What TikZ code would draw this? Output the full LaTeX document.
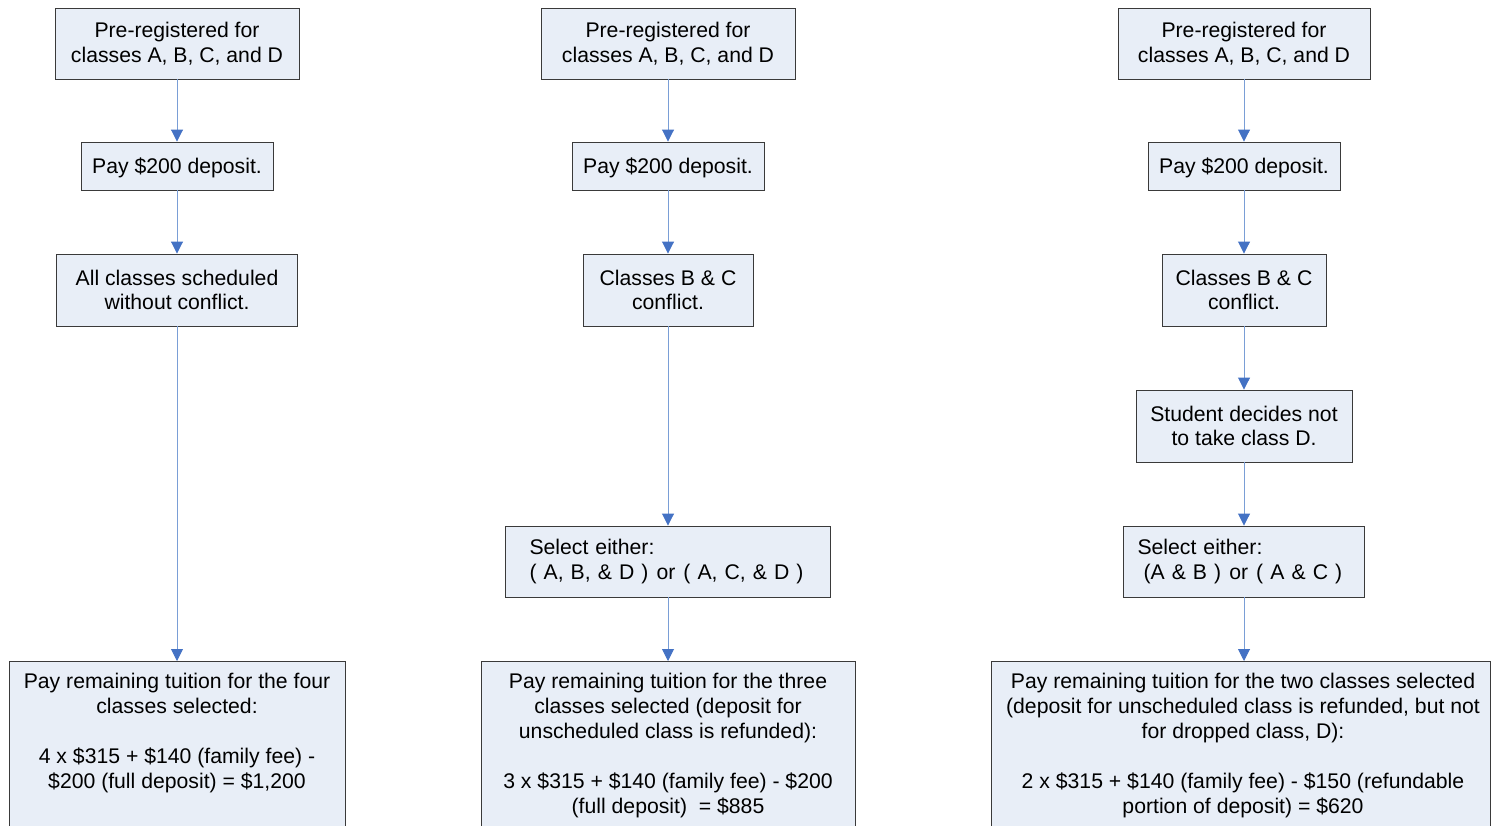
\documentclass[tikz,border=0pt]{standalone}
\usepackage{fontspec}
\setmainfont{Liberation Sans}
\usetikzlibrary{arrows.meta}
\definecolor{boxfill}{HTML}{E8EEF7}
\definecolor{boxdraw}{HTML}{3A3A3A}
\definecolor{linecol}{HTML}{7A9ED6}
\definecolor{headcol}{HTML}{4472C4}
\tikzset{
  box/.style={draw=boxdraw, fill=boxfill, line width=0.9pt, inner sep=0pt, align=center,
    font=\fontsize{21.2}{24.5}\selectfont},
  oneline/.style={text height=15.2pt, text depth=0pt},
  txt/.style={inner sep=0pt, align=center, font=\fontsize{21.2}{25}\selectfont},
  flow/.style={draw=linecol, line width=0.9pt, -{Triangle[width=12pt,length=12pt,color=headcol]}}
}
\begin{document}
\begin{tikzpicture}[x=1pt,y=-1pt]
\useasboundingbox (0,0) rectangle (1491,825);
\clip (0,0) rectangle (1491,825);
% column 1
\node[box, minimum width=244, minimum height=71] (c1a) at (177,43.5) {Pre-registered for\\classes A, B, C, and D};
\node[box, oneline, minimum width=192, minimum height=48] (c1b) at (177,166) {Pay \$200 deposit.};
\node[box, minimum width=241, minimum height=72] (c1c) at (177,290) {All classes scheduled\\without conflict.};
\node[box, minimum width=336, minimum height=220, anchor=north] (c1d) at (177,661) {};
\node[txt, anchor=north] (c1dt) at (177,673) {Pay remaining tuition for the four\\classes selected:\\~\\4 x \$315 + \$140 (family fee) -\\\$200 (full deposit) = \$1,200};
\draw[flow] (c1a.south) -- (c1b.north);
\draw[flow] (c1b.south) -- (c1c.north);
\draw[flow] (c1c.south) -- (c1d.north);
% column 2
\node[box, minimum width=254, minimum height=71] (c2a) at (668,43.5) {Pre-registered for\\classes A, B, C, and D};
\node[box, oneline, minimum width=192, minimum height=48] (c2b) at (668,166) {Pay \$200 deposit.};
\node[box, minimum width=170, minimum height=72] (c2c) at (668,290) {Classes B \& C\\conflict.};
\node[box, minimum height=71, align=left, text width=277pt, inner xsep=24pt] (c2d) at (668,561.5) {Select either:\\\mbox{( A, B, \& D )\hspace{1pt} or\hspace{1pt} ( A, C, \& D )}};
\node[box, minimum width=374, minimum height=220, anchor=north] (c2e) at (668,661) {};
\node[txt, anchor=north] (c2et) at (668,673) {Pay remaining tuition for the three\\classes selected (deposit for\\unscheduled class is refunded):\\~\\3 x \$315 + \$140 (family fee) - \$200\\(full deposit)~ = \$885};
\draw[flow] (c2a.south) -- (c2b.north);
\draw[flow] (c2b.south) -- (c2c.north);
\draw[flow] (c2c.south) -- (c2d.north);
\draw[flow] (c2d.south) -- (c2e.north);
% column 3
\node[box, minimum width=252, minimum height=71] (c3a) at (1244,43.5) {Pre-registered for\\classes A, B, C, and D};
\node[box, oneline, minimum width=192, minimum height=48] (c3b) at (1244,166) {Pay \$200 deposit.};
\node[box, minimum width=164, minimum height=72] (c3c) at (1244,290) {Classes B \& C\\conflict.};
\node[box, minimum width=216, minimum height=72] (c3d) at (1244,426) {Student decides not\\to take class D.};
\node[box, minimum height=71, align=left, text width=213pt, inner xsep=14pt] (c3e) at (1244,561.5) {Select either:\\\mbox{\hspace*{6pt}(A \& B )\hspace{1pt} or\hspace{1pt} ( A \& C )}};
\node[box, minimum width=499, minimum height=220, anchor=north] (c3f) at (1240.5,661) {};
\node[txt, anchor=north] (c3ft) at (1243,673) {Pay remaining tuition for the two classes selected\\(deposit for unscheduled class is refunded, but not\\for dropped class, D):\\~\\2 x \$315 + \$140 (family fee) - \$150 (refundable\\portion of deposit) = \$620};
\draw[flow] (c3a.south) -- (c3b.north);
\draw[flow] (c3b.south) -- (c3c.north);
\draw[flow] (c3c.south) -- (c3d.north);
\draw[flow] (c3d.south) -- (c3e.north);
\draw[flow] (c3e.south) -- (c3e.south |- c3f.north);
\end{tikzpicture}
\end{document}
